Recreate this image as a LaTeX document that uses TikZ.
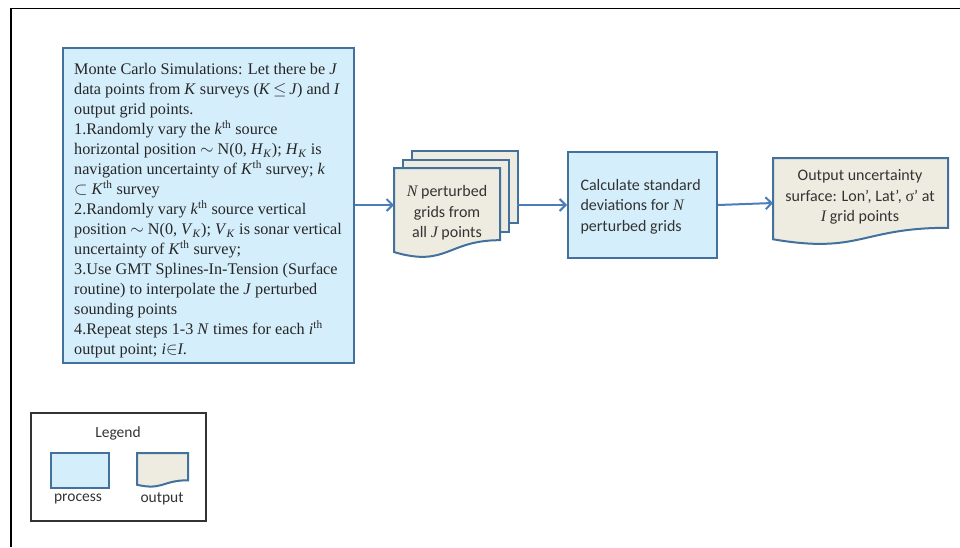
\documentclass[tikz,border=0pt]{standalone}
\usepackage{fontspec}
\setmainfont{Liberation Serif}
\newfontfamily\calibri{Carlito}
\newfontfamily\serifrm{Liberation Serif}
\usetikzlibrary{arrows.meta}
\definecolor{procfill}{HTML}{D5EEFB}
\definecolor{bordblue}{HTML}{41719C}
\definecolor{docfill}{HTML}{EEECE1}
\definecolor{arrowblue}{HTML}{4A7EBB}
\definecolor{sanstext}{HTML}{333333}
\definecolor{legendgray}{HTML}{333333}
\newcommand\docshape[4]{%
  \path[docbox] (#1,#2) -- ({#1+#3},#2) -- ({#1+#3},{#2+0.802*#4})
    .. controls ({#1+0.5*#3},{#2+0.802*#4}) and ({#1+0.5*#3},{#2+1.107*#4}) ..
    (#1,{#2+0.934*#4}) -- cycle;}
\begin{document}
\begin{tikzpicture}[x=1pt,y=-1pt,
  procbox/.style={draw=bordblue,fill=procfill,line width=2pt},
  docbox/.style={draw=bordblue,fill=docfill,line width=2pt},
  pagebox/.style={draw=bordblue,fill=docfill,line width=2pt},
  ghost/.style={inner sep=0pt,anchor=north west},
  arr/.style={draw=arrowblue,line width=2pt,-{Straight Barb[length=6pt,width=12pt,line width=2pt]}},
  sanslabel/.style={font=\calibri\fontsize{16}{20.5}\selectfont,text=sanstext,align=center},
  legendlabel/.style={font=\calibri\fontsize{15.5}{18}\selectfont,text=sanstext}]
\useasboundingbox (0,0) rectangle (960,547);
% outer frame
\draw[line width=1.5pt] (11,547) -- (11,8.5) -- (960,8.5);

% Monte Carlo process box
\node[procbox,ghost,minimum width=291pt,minimum height=315pt] (mc) at (62,47) {};
\node[ghost,align=left,font=\fontsize{16.2}{20}\selectfont,text=black!85] (mctext) at (74,63) {%
Monte Carlo Simulations: Let there be \textit{J}\\
data points from \textit{K} surveys (\textit{K}\,$\leq$\,\textit{J}) and \textit{I}\\
output grid points.\\
1.Randomly vary the \textit{k}\textsuperscript{th} source\\
horizontal position $\sim$ N(0, \textit{H}\textsubscript{\textit{K}}); \textit{H}\textsubscript{\textit{K}} is\\
navigation uncertainty of \textit{K}\textsuperscript{th} survey; \textit{k}\\
$\subset$ \textit{K}\textsuperscript{th} survey\\
2.Randomly vary \textit{k}\textsuperscript{th} source vertical\\
position $\sim$ N(0, \textit{V}\textsubscript{\textit{K}}); \textit{V}\textsubscript{\textit{K}} is sonar vertical\\
uncertainty of \textit{K}\textsuperscript{th} survey;\\
3.Use GMT Splines-In-Tension (Surface\\
routine) to interpolate the \textit{J} perturbed\\
sounding points\\
4.Repeat steps 1-3 \textit{N} times for each \textit{i}\textsuperscript{th}\\
output point; \textit{i}$\in$\textit{I}.};

% stacked perturbed grids (multidocument)
\node[pagebox,ghost,minimum width=106pt,minimum height=72pt] (page3) at (411,150) {};
\node[pagebox,ghost,minimum width=106pt,minimum height=72pt] (page2) at (402,159) {};
\node[ghost,minimum width=106pt,minimum height=84pt] (pert) at (394,168) {};
\docshape{394}{168}{106}{90}
\node[sanslabel] (perttext) at (447,213) {{\serifrm\itshape N} perturbed\\grids from\\all {\serifrm\itshape J} points};

% calculate box
\node[procbox,ghost,minimum width=149pt,minimum height=106pt] (calc) at (567,151) {};
\node[sanslabel,align=left,anchor=west] (calctext) at (577,206.5) {Calculate standard\\deviations for {\serifrm\itshape N}\\perturbed grids};

% output document
\node[ghost,minimum width=175pt,minimum height=81pt] (out) at (773,158) {};
\docshape{773}{158}{175}{87}
\node[sanslabel] (outtext) at (860,197) {Output uncertainty\\surface: Lon’, Lat’, {\serifrm σ}’ at\\{\serifrm\itshape I} grid points};

% connectors
\coordinate (pertL) at (394,205);
\coordinate (pertR) at (517,205);
\coordinate (calcL) at (567,205);
\coordinate (outL) at (773,203);
\draw[arr] (mc.east |- pertL) -- (pertL);
\draw[arr] (pertR) -- (calcL);
\draw[arr] (calc.east) -- (outL);

% legend
\node[draw=legendgray,line width=1.5pt,ghost,minimum width=175pt,minimum height=108pt] (legend) at (30,412) {};
\node[legendlabel] (legendtitle) at (118,433) {Legend};
\node[procbox,ghost,minimum width=58pt,minimum height=35pt] (legproc) at (50,452) {};
\node[legendlabel] (legproctext) at (78,499) {process};
\node[ghost,minimum width=51pt,minimum height=32pt] (legout) at (137,453) {};
\docshape{137}{453}{51}{34}
\node[legendlabel] (legouttext) at (162,499) {output};
\end{tikzpicture}
\end{document}
